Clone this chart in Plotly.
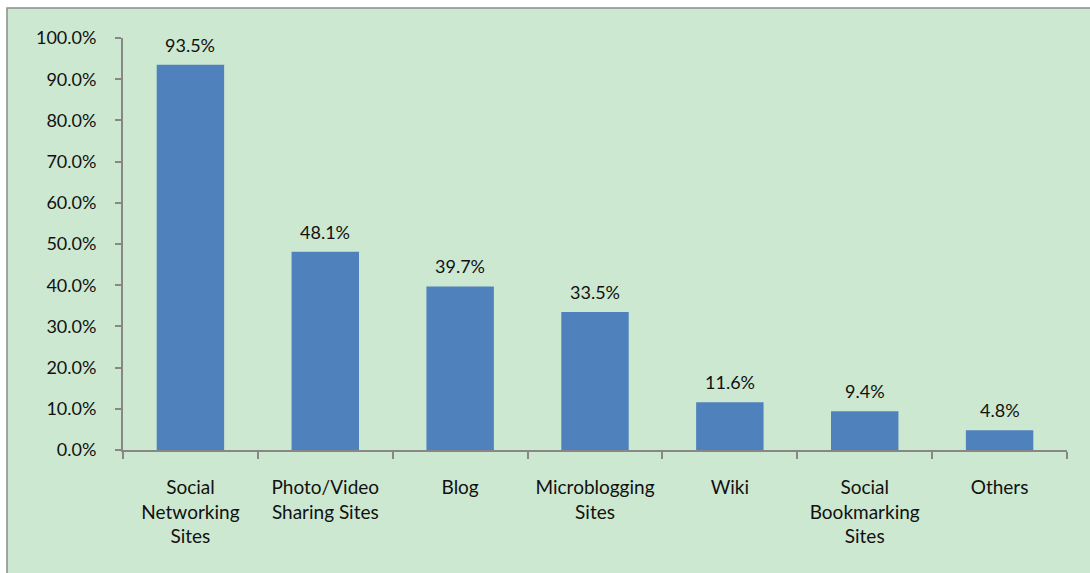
import plotly.graph_objects as go

categories = ["Social<br>Networking<br>Sites", "Photo/Video<br>Sharing Sites", "Blog",
              "Microblogging<br>Sites", "Wiki", "Social<br>Bookmarking<br>Sites", "Others"]
values = [93.5, 48.1, 39.7, 33.5, 11.6, 9.4, 4.8]
tick_vals = [0, 10, 20, 30, 40, 50, 60, 70, 80, 90, 100]
tick_text = [f"{v:.1f}%" for v in tick_vals]
labels = [f"{v:.1f}%" for v in values]

W, H = 1090, 573
ml, mr, mt, mb = 123, 23, 38, 123
pw, ph = W - ml - mr, H - mt - mb

BG = "#CDE8D0"
AX = "#878787"
FONT = "Lato, 'Open Sans', sans-serif"

fig = go.Figure()
fig.add_trace(go.Bar(x=categories, y=values, marker=dict(color="#4F81BD", line=dict(width=0)),
                     hoverinfo="skip"))

for c, v, t in zip(categories, values, labels):
    fig.add_annotation(x=c, y=v, text=t, showarrow=False, yanchor="bottom", yshift=7,
                       font=dict(size=18, color="#111111", family=FONT))

def px2paper_x(p):
    return (p - ml) / pw

def px2paper_y(p):
    return (H - mb - p) / ph

fig.add_shape(type="rect", xref="paper", yref="paper", layer="below",
              x0=px2paper_x(7), x1=px2paper_x(1100), y0=px2paper_y(590), y1=px2paper_y(8),
              fillcolor=BG, line=dict(color="#8C8C8C", width=1.5))

fig.update_layout(
    width=W, height=H,
    margin=dict(l=ml, r=mr, t=mt, b=mb, autoexpand=False),
    paper_bgcolor="white", plot_bgcolor=BG,
    bargap=0.5, showlegend=False,
    font=dict(family=FONT, size=18, color="#111111"),
)
fig.update_xaxes(showline=True, linecolor=AX, linewidth=2, ticks="outside", tickson="boundaries",
                 ticklen=7, tickwidth=2, tickcolor=AX, showgrid=False, tickfont=dict(size=19),
                 ticklabelstandoff=19, automargin=False, fixedrange=True)
fig.update_yaxes(range=[0, 100], tickvals=tick_vals, ticktext=tick_text, showline=True,
                 linecolor=AX, linewidth=2, ticks="outside", ticklen=6, tickwidth=2, tickcolor=AX,
                 showgrid=False, zeroline=False, tickfont=dict(size=18), ticklabelstandoff=15,
                 automargin=False, fixedrange=True)

fig.write_html("out.html", config={"displayModeBar": False},
               post_script="document.body.style.margin='0px';document.body.style.overflow='hidden';")
